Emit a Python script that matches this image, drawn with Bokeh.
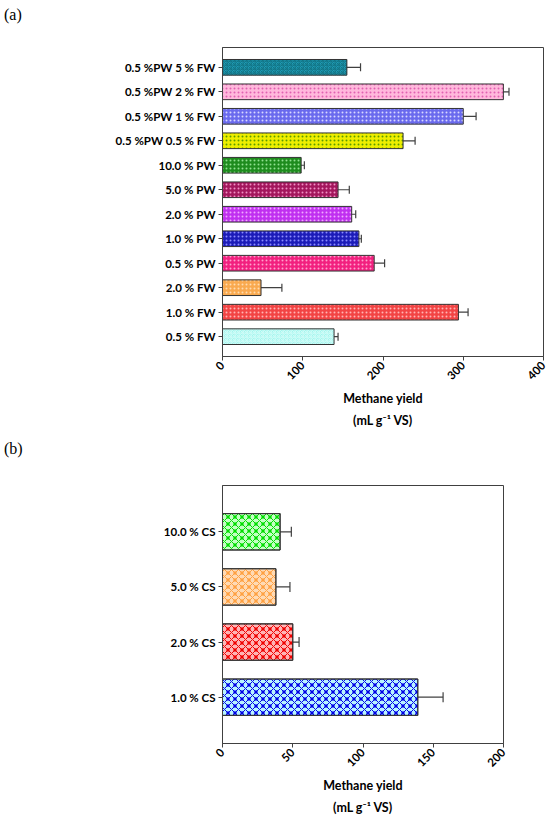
import math
from bokeh.plotting import figure
from bokeh.models import (FactorRange, Range1d, FixedTicker, ColumnDataSource,
                          Whisker, TeeHead, Div)
from bokeh.layouts import column
from bokeh.embed import file_html
from bokeh.resources import INLINE

# ---------------- data: panel (a) (bottom -> top) ----------------
cats_a = ["0.5 % FW", "1.0 % FW", "2.0 % FW", "0.5 % PW", "1.0 % PW",
          "2.0 % PW", "5.0 % PW", "10.0 % PW", "0.5 %PW 0.5 % FW",
          "0.5 %PW 1 % FW", "0.5 %PW 2 % FW", "0.5 %PW 5 % FW"]
yield_a = [139, 294, 48, 189, 170, 161, 144, 98, 225, 300, 350, 155]
err_a = [5, 12, 26, 13, 3, 5, 14, 4, 15, 16, 7, 17]
ticks_a = [0, 100, 200, 300, 400]

# ---------------- data: panel (b) (bottom -> top) ----------------
cats_b = ["1.0 % CS", "2.0 % CS", "5.0 % CS", "10.0 % CS"]
yield_b = [139, 50, 38, 41]
err_b = [18, 4.5, 10, 8]
ticks_b = [0, 50, 100, 150, 200]

x_label = "Methane yield\n(mL g\u207b\u00b9 VS)"

# ---------------- styles ----------------
fill_a = ["#a4f5ee", "#f24444", "#f9a94f", "#f2207f", "#1c1cb8", "#c030f0",
          "#a3165c", "#1e8c1e", "#eeee00", "#6a6aee", "#ffb8dc", "#1f9bb5"]
hcol_a = ["#cffcf7", "#ffb4b4", "#ffdcb0", "#ffa0cc", "#8c8cff", "#f0a8ff",
          "#f090c4", "#90e090", "#5a9a00", "#d8d8ff", "#e060b0", "#127587"]
hpat_a = ["criss_cross", "dot", "dot", "dot", "dot", "dot",
          "dot", "dot", "dot", "dot", "dot", "criss_cross"]

fill_b = ["#b8f4ff", "#ffb4b4", "#ffdab4", "#c4ffc4"]
hcol_b = ["#0000e6", "#f00000", "#ffa040", "#00dd00"]

FONT = "Lato"
AX_COL = "#404040"


def style(p, ticks):
    p.xgrid.visible = False
    p.ygrid.visible = False
    p.outline_line_color = AX_COL
    p.outline_line_width = 1
    p.background_fill_color = "white"
    p.border_fill_color = "white"
    p.xaxis.ticker = FixedTicker(ticks=ticks)
    p.xaxis.minor_tick_line_color = None
    p.xaxis.major_label_orientation = math.pi / 4
    for ax in (p.xaxis, p.yaxis):
        ax.axis_line_color = AX_COL
        ax.major_tick_line_color = AX_COL
        ax.major_tick_in = 0
        ax.major_tick_out = 4
        ax.major_label_text_font = FONT
        ax.major_label_text_font_style = "bold"
        ax.major_label_text_color = "black"
        ax.major_label_text_font_size = "11.5px"
        ax.major_label_standoff = 3
    p.xaxis.axis_label = x_label
    p.xaxis.axis_label_text_font = FONT
    p.xaxis.axis_label_text_font_style = "bold"
    p.xaxis.axis_label_text_font_size = "12.5px"
    p.xaxis.axis_label_text_color = "black"
    p.xaxis.axis_label_text_line_height = 1.45
    p.xaxis.axis_label_standoff = 5


def whiskers(p, src, cap):
    w = Whisker(base="cat", lower="lower", upper="upper", dimension="width",
                source=src, line_color=AX_COL, line_width=1.2,
                upper_head=TeeHead(size=cap, line_color=AX_COL, line_width=1.2),
                lower_head=TeeHead(size=cap, line_color=AX_COL, line_width=1.2))
    p.add_layout(w)


def tag(text, top):
    return Div(text=text, width=60, height=24, margin=(top, 0, 0, 4),
               styles={"font-family": "Liberation Serif", "font-size": "16px",
                       "color": "black", "line-height": "18px"})


# ---------------- panel (a) ----------------
src_a = ColumnDataSource(dict(
    cat=cats_a, val=yield_a,
    lower=[v - e for v, e in zip(yield_a, err_a)],
    upper=[v + e for v, e in zip(yield_a, err_a)],
    fill=fill_a, hcol=hcol_a, hpat=hpat_a))

pa = figure(width=550, height=410,
            y_range=FactorRange(factors=cats_a, range_padding=0.31,
                                range_padding_units="absolute"),
            x_range=Range1d(0, 400),
            output_backend="svg", toolbar_location=None,
            min_border_left=222, min_border_right=7,
            min_border_top=17, min_border_bottom=84)
pa.hbar(y="cat", left=0, right="val", height=0.64, source=src_a,
        fill_color="fill", hatch_pattern="hpat", hatch_color="hcol",
        hatch_scale=4, hatch_weight=1, line_color="#333333", line_width=1)
whiskers(pa, src_a, 8)
style(pa, ticks_a)

# ---------------- panel (b) ----------------
src_b = ColumnDataSource(dict(
    cat=cats_b, val=yield_b,
    lower=[v - e for v, e in zip(yield_b, err_b)],
    upper=[v + e for v, e in zip(yield_b, err_b)],
    fill=fill_b, hcol=hcol_b))

pb = figure(width=550, height=358,
            y_range=FactorRange(factors=cats_b, range_padding=0.34,
                                range_padding_units="absolute"),
            x_range=Range1d(0, 200),
            output_backend="svg", toolbar_location=None,
            min_border_left=222, min_border_right=47,
            min_border_top=21, min_border_bottom=79)
pb.hbar(y="cat", left=0, right="val", height=0.66, source=src_b,
        fill_color="fill", hatch_pattern="diagonal_cross", hatch_color="hcol",
        hatch_scale=7, hatch_weight=1, line_color="#333333", line_width=1)
pb.hbar(y="cat", left=0, right="val", height=0.66, source=src_b,
        fill_color=None, hatch_pattern="dot", hatch_color="hcol",
        hatch_scale=7, hatch_weight=2, line_color="#333333", line_width=1)
whiskers(pb, src_b, 10)
style(pb, ticks_b)

root_a = column(tag("(a)", 6), pa, spacing=0)
root_b = column(tag("(b)", 0), pb, spacing=0)
open("out.html", "w").write(file_html([root_a, root_b], INLINE))
